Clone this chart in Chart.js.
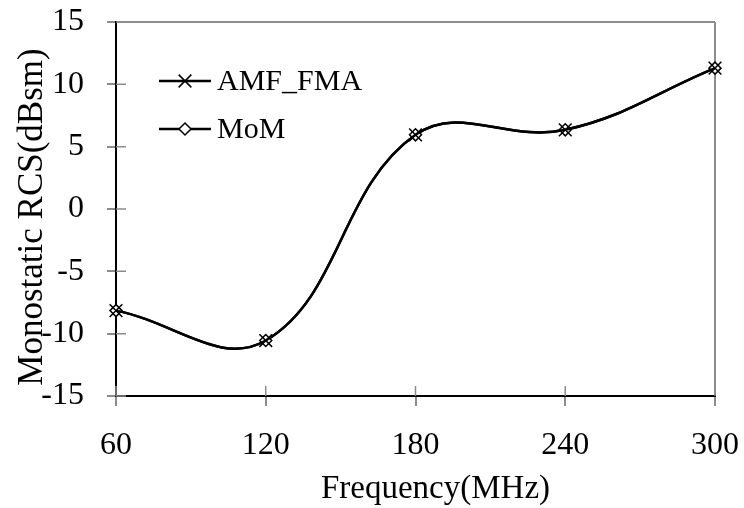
<!DOCTYPE html>
<html>
<head>
<meta charset="utf-8">
<script src="https://cdn.jsdelivr.net/npm/chart.js@4/dist/chart.umd.min.js"></script>
<style>
  html, body { margin: 0; padding: 0; background: #fff; }
  #wrap { width: 744px; height: 508px; }
</style>
</head>
<body>
<div id="wrap"><canvas id="rcs" width="744" height="508"></canvas></div>
<script>
// Data
const frequencies = [60, 120, 180, 240, 300];
const amfFma = [-8.15, -10.55, 5.95, 6.35, 11.3];
const mom = [-8.15, -10.55, 5.95, 6.35, 11.3];
const xTicks = [60, 120, 180, 240, 300];
const yTicks = [-15, -10, -5, 0, 5, 10, 15];
const xTitle = 'Frequency(MHz)';
const yTitle = 'Monostatic RCS(dBsm)';

const serif = '"Liberation Serif", "Times New Roman", serif';
const gray = '#8c8c8c';

// Inner half of the crossing tick marks
const innerTicks = {
  id: 'innerTicks',
  afterDraw(chart) {
    const { ctx, chartArea, scales } = chart;
    ctx.save();
    ctx.strokeStyle = gray;
    ctx.lineWidth = 1.5;
    ctx.beginPath();
    xTicks.forEach(v => {
      const x = scales.x.getPixelForValue(v);
      ctx.moveTo(x, chartArea.bottom);
      ctx.lineTo(x, chartArea.bottom - 10);
    });
    yTicks.forEach(v => {
      const y = scales.y.getPixelForValue(v);
      ctx.moveTo(chartArea.left, y);
      ctx.lineTo(chartArea.left + 10, y);
    });
    ctx.stroke();
    ctx.restore();
  }
};

// Axis titles, placed like the original (x title sits right of centre)
const axisTitles = {
  id: 'axisTitles',
  afterDraw(chart) {
    const { ctx, chartArea } = chart;
    ctx.save();
    ctx.fillStyle = '#000';
    ctx.textAlign = 'center';
    ctx.textBaseline = 'alphabetic';
    ctx.font = '33px ' + serif;
    ctx.fillText(xTitle, (chartArea.left + chartArea.right) / 2 + 20, 498);
    ctx.translate(42, 217);
    ctx.rotate(-Math.PI / 2);
    ctx.font = '35px ' + serif;
    ctx.fillText(yTitle, 0, 0);
    ctx.restore();
  }
};

// Legend drawn inside the plot: short line with the marker, then the label
const innerLegend = {
  id: 'innerLegend',
  afterDraw(chart) {
    const { ctx, chartArea } = chart;
    ctx.save();
    chart.data.datasets.forEach((ds, i) => {
      const y = chartArea.top + 59 + i * 48;
      const x0 = chartArea.left + 43;
      ctx.strokeStyle = ds.borderColor;
      ctx.lineWidth = ds.borderWidth;
      ctx.beginPath();
      ctx.moveTo(x0, y);
      ctx.lineTo(x0 + 52, y);
      ctx.stroke();
      ctx.lineWidth = ds.pointBorderWidth;
      ctx.strokeStyle = ds.pointBorderColor;
      ctx.fillStyle = ds.pointBackgroundColor;
      Chart.helpers.drawPoint(ctx, { pointStyle: ds.pointStyle, radius: ds.pointRadius, borderWidth: ds.pointBorderWidth }, x0 + 26, y);
      ctx.fillStyle = '#000';
      ctx.font = '30px ' + serif;
      ctx.textBaseline = 'middle';
      ctx.textAlign = 'left';
      ctx.fillText(ds.label, x0 + 58, y + 1);
    });
    ctx.restore();
  }
};

new Chart(document.getElementById('rcs').getContext('2d'), {
  type: 'line',
  data: {
    datasets: [
      {
        label: 'AMF_FMA',
        data: frequencies.map((f, i) => ({ x: f, y: amfFma[i] })),
        borderColor: '#000',
        borderWidth: 2.5,
        tension: 0.4,
        pointStyle: 'crossRot',
        pointRadius: 9,
        pointBorderWidth: 1.5,
        pointBorderColor: '#000',
        pointBackgroundColor: '#fff',
        clip: false,
        order: 1,
      },
      {
        label: 'MoM',
        data: frequencies.map((f, i) => ({ x: f, y: mom[i] })),
        borderColor: '#000',
        borderWidth: 2.5,
        tension: 0.4,
        pointStyle: 'rectRot',
        pointRadius: 6,
        pointBorderWidth: 1.5,
        pointBorderColor: '#000',
        pointBackgroundColor: '#fff',
        clip: false,
        order: 2,
      },
    ],
  },
  options: {
    responsive: false,
    devicePixelRatio: 1,
    animation: false,
    layout: { padding: { top: 22, right: 29, left: 0, bottom: 0 } },
    plugins: {
      legend: { display: false },
      tooltip: { enabled: false },
    },
    scales: {
      x: {
        type: 'linear',
        min: 60,
        max: 300,
        afterFit: (scale) => {
          scale.height = 112;
          scale.paddingLeft = 0;
          scale.paddingRight = 0;
        },
        afterBuildTicks: (scale) => { scale.ticks = xTicks.map(v => ({ value: v })); },
        ticks: { color: '#000', font: { family: serif, size: 32 }, padding: 20, maxRotation: 0 },
        grid: {
          color: (ctx) => (ctx.tick && ctx.tick.value === 300 ? gray : 'rgba(0,0,0,0)'),
          tickColor: gray,
          tickLength: 10,
          lineWidth: 2,
        },
        border: { color: '#000', width: 2 },
      },
      y: {
        type: 'linear',
        min: -15,
        max: 15,
        afterFit: (scale) => {
          scale.width = 116;
          scale.paddingTop = 0;
          scale.paddingBottom = 0;
        },
        afterBuildTicks: (scale) => { scale.ticks = yTicks.map(v => ({ value: v })); },
        ticks: { color: '#000', font: { family: serif, size: 32 }, padding: 23 },
        grid: {
          color: (ctx) => (ctx.tick && ctx.tick.value === 15 ? gray : 'rgba(0,0,0,0)'),
          tickColor: gray,
          tickLength: 9,
          lineWidth: 2,
        },
        border: { color: '#000', width: 2 },
      },
    },
  },
  plugins: [innerTicks, innerLegend, axisTitles],
});
</script>
</body>
</html>
